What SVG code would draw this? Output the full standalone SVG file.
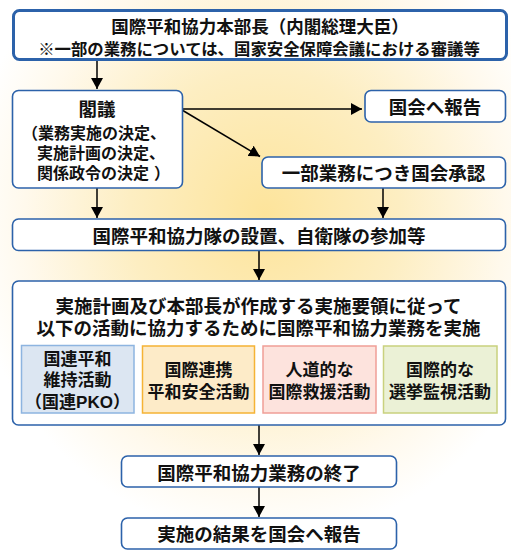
<svg xmlns="http://www.w3.org/2000/svg" width="511" height="559" viewBox="0 0 511 559">
<defs>
<radialGradient id="glow" gradientUnits="userSpaceOnUse" cx="265" cy="215" r="300" gradientTransform="translate(265 215) scale(1 1.08) translate(-265 -215)">
<stop offset="0" stop-color="#fde49b"/>
<stop offset="0.45" stop-color="#fdeec2"/>
<stop offset="0.8" stop-color="#fff9ec"/>
<stop offset="1" stop-color="#ffffff"/>
</radialGradient>
<marker id="arr" markerUnits="userSpaceOnUse" markerWidth="12" markerHeight="12" refX="11" refY="6" orient="auto">
<path d="M0,0 L11,6 L0,12 z" fill="#000"/>
</marker>
<style>
.box{fill:#fff;stroke:#2c62aa;stroke-width:1.6}
.main{stroke-width:3}
.t{font-family:"Noto Sans CJK JP","Noto Sans CJK SC",sans-serif;font-weight:bold;fill:#111;text-anchor:middle;dominant-baseline:central}
.m{font-family:"Liberation Sans","Noto Sans CJK JP",sans-serif}
.l{text-anchor:start}
.f18{font-size:18.5px}
.f17{font-size:17px}
.f16{font-size:16px}
.c{fill:none;stroke:#000;stroke-width:1.5;marker-end:url(#arr)}
</style>
</defs>
<rect width="511" height="559" fill="#fff"/>
<rect width="511" height="559" fill="url(#glow)"/>

<g id="connectors">
<line class="c" x1="97" y1="61" x2="97" y2="89"/>
<line class="c" x1="182" y1="109" x2="362" y2="109"/>
<line class="c" x1="182" y1="110" x2="260" y2="156.5"/>
<line class="c" x1="97" y1="188" x2="97" y2="218"/>
<line class="c" x1="383" y1="188" x2="383" y2="218"/>
<line class="c" x1="259" y1="251" x2="259" y2="280"/>
<line class="c" x1="259" y1="425" x2="259" y2="455"/>
<line class="c" x1="259" y1="487" x2="259" y2="517"/>
</g>

<g id="hq">
<rect class="box main" x="13.5" y="10.5" width="493" height="49" rx="6"/>
<text class="t"><tspan x="260" y="25" style="font-size:17.5px">国際平和協力本部長（内閣総理大臣）</tspan><tspan x="259" y="48" style="font-size:16.4px">※一部の業務については、国家安全保障会議における審議等</tspan></text>
</g>

<g id="cabinet">
<rect class="box" x="12.5" y="90.5" width="170" height="97.5" rx="6"/>
<text class="t f18" x="97" y="108">閣議</text>
<text class="t m l f16"><tspan x="22" y="132.5">（業務実施の決定、</tspan><tspan x="37" y="152.5">実施計画の決定、</tspan><tspan x="37" y="172.5">関係政令の決定</tspan><tspan dx="5">）</tspan></text>
</g>

<g id="report-diet">
<rect class="box" x="365" y="90.5" width="140.5" height="31.5" rx="6"/>
<text class="t f18" x="435" y="106">国会へ報告</text>
</g>

<g id="diet-approval">
<rect class="box" x="262" y="157" width="243.5" height="31" rx="6"/>
<text class="t f18" x="383.5" y="172">一部業務につき国会承認</text>
</g>

<g id="establish">
<rect class="box" x="12.5" y="219" width="493" height="31.5" rx="6"/>
<text class="t f18" x="259" y="235">国際平和協力隊の設置、自衛隊の参加等</text>
</g>

<g id="implement">
<rect class="box" x="12.5" y="281" width="493" height="144" rx="6"/>
<text class="t m f18"><tspan x="258.5" y="305.5">実施計画及び本部長が作成する実施要領に従って</tspan><tspan x="258.5" y="327.5">以下の活動に協力するために国際平和協力業務を実施</tspan></text>
</g>

<g id="pko">
<rect x="21.5" y="345.5" width="112.5" height="67.5" fill="#dce6f2" stroke="#8db4e0" stroke-width="1.5"/>
<text class="t m f17"><tspan x="77.5" y="358.5">国連平和</tspan><tspan x="77.5" y="379.5">維持活動</tspan><tspan x="77.5" y="401.5">（国連PKO）</tspan></text>
</g>

<g id="intl-peace">
<rect x="142.5" y="346" width="112" height="67" fill="#fdebc8" stroke="#f5b335" stroke-width="1.5"/>
<text class="t m f17"><tspan x="198.5" y="369.5">国際連携</tspan><tspan x="198.5" y="391.5">平和安全活動</tspan></text>
</g>

<g id="humanitarian">
<rect x="263" y="346" width="113" height="67" fill="#fde3dd" stroke="#ef9e97" stroke-width="1.5"/>
<text class="t m f17"><tspan x="319.5" y="369.5">人道的な</tspan><tspan x="319.5" y="391.5">国際救援活動</tspan></text>
</g>

<g id="election">
<rect x="383.5" y="346" width="113.5" height="67" fill="#ebf1d6" stroke="#c9d17e" stroke-width="1.5"/>
<text class="t m f17"><tspan x="440" y="369.5">国際的な</tspan><tspan x="440" y="391.5">選挙監視活動</tspan></text>
</g>

<g id="termination">
<rect class="box" x="121.5" y="456" width="275" height="31" rx="6"/>
<text class="t f18" x="259" y="471.5">国際平和協力業務の終了</text>
</g>

<g id="final-report">
<rect class="box" x="121.5" y="518" width="275" height="31" rx="6"/>
<text class="t f18" x="259" y="533">実施の結果を国会へ報告</text>
</g>
</svg>
